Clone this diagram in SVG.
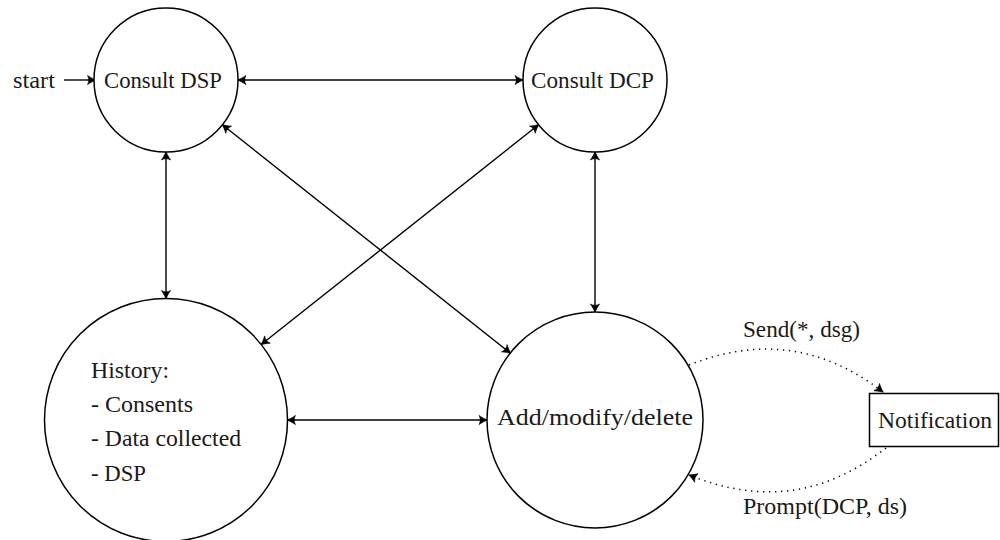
<svg xmlns="http://www.w3.org/2000/svg" width="1000" height="540" viewBox="0 0 1000 540">
<style>
  .node { fill: #fff; stroke: #000; stroke-width: 1.5; }
  .lbl { font-family: "Liberation Serif", "DejaVu Serif", serif; font-size: 23.5px; fill: #1a1a1a; }
  .edge { fill: none; stroke: #000; stroke-width: 1.4; }
  .dot { fill: none; stroke: #000; stroke-width: 1.5; stroke-dasharray: 1.3 4.7; }
</style>
<defs>
  <marker id="arr" viewBox="-10 -6 12 12" refX="0" refY="0" markerWidth="12" markerHeight="12" markerUnits="userSpaceOnUse" orient="auto-start-reverse">
    <path d="M0.5,0 C-2,-0.9 -5,-2.6 -8,-4.6 C-6.3,-2 -6.3,2 -8,4.6 C-5,2.6 -2,0.9 0.5,0 Z" fill="#000" stroke="#000" stroke-width="0.6" stroke-linejoin="round"/>
  </marker>
</defs>
<rect width="1000" height="540" fill="#fff"/>

<g id="connectors">
  <path class="edge" d="M64,80 L95.5,80" marker-end="url(#arr)"/>
  <path class="edge" d="M238,80 L523,80" marker-start="url(#arr)" marker-end="url(#arr)"/>
  <path class="edge" d="M166,152 L166,298.5" marker-start="url(#arr)" marker-end="url(#arr)"/>
  <path class="edge" d="M595,152 L595,312" marker-start="url(#arr)" marker-end="url(#arr)"/>
  <path class="edge" d="M287.5,420 L487,420" marker-start="url(#arr)" marker-end="url(#arr)"/>
  <path class="edge" d="M222.4,124.8 L510.5,353.2" marker-start="url(#arr)" marker-end="url(#arr)"/>
  <path class="edge" d="M538.6,124.7 L261.2,344.5" marker-start="url(#arr)" marker-end="url(#arr)"/>
  <path class="dot" d="M689,365 C760,337 823,346 883,392" marker-end="url(#arr)"/>
  <path class="dot" d="M886,448 C824,496 761,504 689,475" marker-end="url(#arr)"/>
  <text class="lbl" x="743" y="337" textLength="117" lengthAdjust="spacingAndGlyphs">Send(*, dsg)</text>
  <text class="lbl" x="743" y="514" textLength="164" lengthAdjust="spacingAndGlyphs">Prompt(DCP, ds)</text>
</g>

<g id="start">
  <text class="lbl" x="13" y="88" textLength="42" lengthAdjust="spacingAndGlyphs">start</text>
</g>

<g id="consult-dsp">
  <circle class="node" cx="166" cy="80" r="72"/>
  <text class="lbl" x="104" y="88" textLength="118" lengthAdjust="spacingAndGlyphs">Consult DSP</text>
</g>

<g id="consult-dcp">
  <circle class="node" cx="595" cy="80" r="72"/>
  <text class="lbl" x="531" y="88" textLength="123" lengthAdjust="spacingAndGlyphs">Consult DCP</text>
</g>

<g id="history">
  <circle class="node" cx="166" cy="420" r="121.5"/>
  <text class="lbl" x="91" y="378" textLength="78" lengthAdjust="spacingAndGlyphs">History:</text>
  <text class="lbl" x="91" y="412" textLength="102" lengthAdjust="spacingAndGlyphs">- Consents</text>
  <text class="lbl" x="91" y="446" textLength="150" lengthAdjust="spacingAndGlyphs">- Data collected</text>
  <text class="lbl" x="91" y="481" textLength="55" lengthAdjust="spacingAndGlyphs">- DSP</text>
</g>

<g id="add-modify-delete">
  <circle class="node" cx="595" cy="420" r="108"/>
  <text class="lbl" x="497" y="425" textLength="196" lengthAdjust="spacingAndGlyphs">Add/modify/delete</text>
</g>

<g id="notification">
  <rect class="node" x="869.5" y="393.5" width="129" height="53"/>
  <text class="lbl" x="878" y="428" textLength="114" lengthAdjust="spacingAndGlyphs">Notification</text>
</g>
</svg>
